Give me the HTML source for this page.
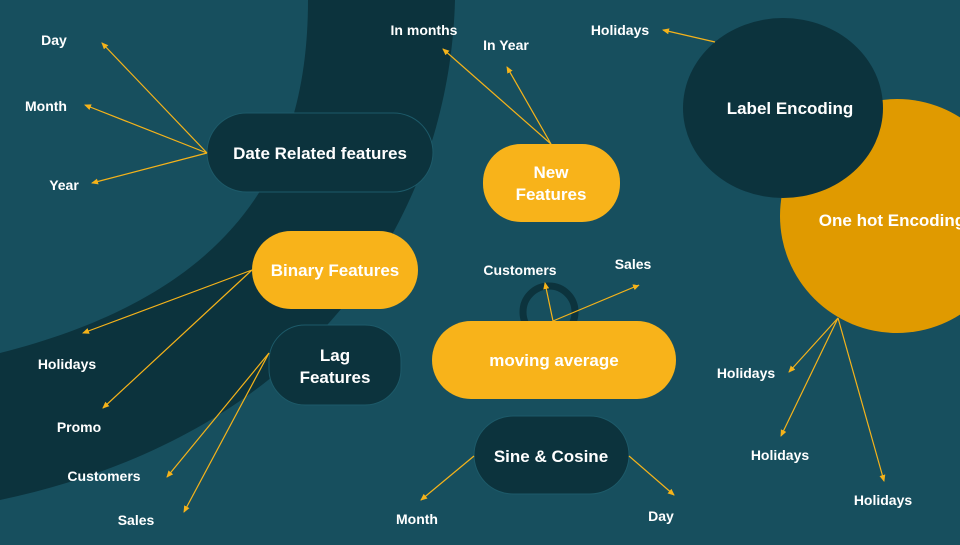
<!DOCTYPE html>
<html><head><meta charset="utf-8"><style>
html,body{margin:0;padding:0}
body{width:960px;height:540px;overflow:hidden;background:#174f5e;font-family:"Liberation Sans",sans-serif}
</style></head><body>
<svg width="960" height="540" viewBox="0 0 960 540" xmlns="http://www.w3.org/2000/svg">
<defs><marker id="a" markerWidth="8" markerHeight="8" refX="6" refY="3" orient="auto" markerUnits="userSpaceOnUse"><path d="M0,0 L7,3 L0,6 z" fill="#f5b31a"/></marker></defs>
<rect width="960" height="540" fill="#174f5e"/>
<path d="M308,0 C308,150 250,290 0,353 L0,500 C330,430 450,200 455,0 Z" fill="#0c333d"/>
<circle cx="897" cy="216" r="117" fill="#e09a00"/>
<ellipse cx="783" cy="108" rx="100" ry="90" fill="#0c333d"/>
<circle cx="549" cy="312" r="26" fill="none" stroke="#0c333d" stroke-width="7"/>
<g fill="#0c333d" stroke="#1d5a69" stroke-width="1">
<rect x="207" y="113" width="226" height="79" rx="39.5"/>
<rect x="269" y="325" width="132" height="80" rx="36"/>
<rect x="474" y="416" width="155" height="78" rx="39"/>
</g>
<g fill="#f8b31a">
<rect x="252" y="231" width="166" height="78" rx="39"/>
<rect x="483" y="144" width="137" height="78" rx="38"/>
<rect x="432" y="321" width="244" height="78" rx="39"/>
</g>
<g stroke="#f5b31a" stroke-width="1.2" marker-end="url(#a)">
<line x1="207" y1="153" x2="102" y2="43"/>
<line x1="207" y1="153" x2="85" y2="105"/>
<line x1="207" y1="153" x2="92" y2="183"/>
<line x1="252" y1="270" x2="83" y2="333"/>
<line x1="252" y1="270" x2="103" y2="408"/>
<line x1="269" y1="353" x2="167" y2="477"/>
<line x1="269" y1="353" x2="184" y2="512"/>
<line x1="551" y1="144" x2="443" y2="49"/>
<line x1="551" y1="144" x2="507" y2="67"/>
<line x1="715" y1="42" x2="663" y2="30"/>
<line x1="553" y1="321" x2="545" y2="283"/>
<line x1="553" y1="321" x2="639" y2="285"/>
<line x1="474" y1="456" x2="421" y2="500"/>
<line x1="629" y1="456" x2="674" y2="495"/>
<line x1="838" y1="318" x2="789" y2="372"/>
<line x1="838" y1="318" x2="781" y2="436"/>
<line x1="838" y1="318" x2="884" y2="481"/>
</g>
<g fill="#fff" font-weight="bold" text-anchor="middle" font-size="17">
<text x="320" y="159">Date Related features</text>
<text x="335" y="276">Binary Features</text>
<text x="335" y="361">Lag</text>
<text x="335" y="383">Features</text>
<text x="551" y="178">New</text>
<text x="551" y="200">Features</text>
<text x="554" y="366">moving average</text>
<text x="551" y="462">Sine &amp; Cosine</text>
<text x="790" y="114">Label Encoding</text>
<text x="892" y="226">One hot Encoding</text>
</g>
<g fill="#fff" font-weight="bold" text-anchor="middle" font-size="14">
<text x="54" y="45">Day</text>
<text x="46" y="111">Month</text>
<text x="64" y="190">Year</text>
<text x="67" y="369">Holidays</text>
<text x="79" y="432">Promo</text>
<text x="104" y="481">Customers</text>
<text x="136" y="525">Sales</text>
<text x="424" y="35">In months</text>
<text x="506" y="50">In Year</text>
<text x="620" y="35">Holidays</text>
<text x="520" y="275">Customers</text>
<text x="633" y="269">Sales</text>
<text x="417" y="524">Month</text>
<text x="661" y="521">Day</text>
<text x="746" y="378">Holidays</text>
<text x="780" y="460">Holidays</text>
<text x="883" y="505">Holidays</text>
</g>
</svg>
</body></html>
